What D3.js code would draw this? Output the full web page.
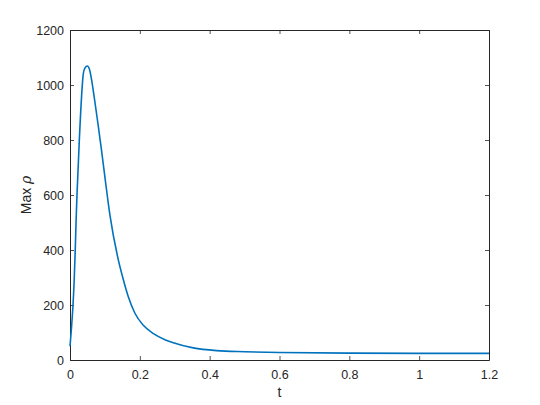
<!DOCTYPE html>
<html>
<head>
<meta charset="utf-8">
<script src="https://cdn.jsdelivr.net/npm/d3@7"></script>
<style>
  body { margin: 0; background: #fff; }
  text { font-family: "Liberation Sans", Arial, sans-serif; }
</style>
</head>
<body>
<svg id="chart" width="540" height="405"></svg>
<script>
// values
const tValues = [ 0, 0.005, 0.0086, 0.012, 0.015, 0.018, 0.020, 0.0267, 0.035, 0.038, 0.043, 0.0496,
  0.0555, 0.062, 0.070, 0.080, 0.090, 0.100, 0.1146, 0.1384, 0.153, 0.167, 0.186, 0.210,
  0.239, 0.272, 0.296, 0.353, 0.42, 0.5, 0.6, 0.8, 1.0, 1.2 ];
const maxRho = [ 50, 130, 200, 290, 400, 527, 600, 800, 995, 1040, 1062, 1069,
  1058, 1018, 950, 860, 765, 665, 525, 364, 291, 230, 170, 126,
  96, 74, 63, 44, 34, 30, 27, 25, 24, 24 ];
const xTicks = [ 0, 0.2, 0.4, 0.6, 0.8, 1, 1.2 ];
const yTicks = [ 0, 200, 400, 600, 800, 1000, 1200 ];

const data = tValues.map( ( t, i ) => ( { t, v: maxRho[i] } ) );

const svg = d3.select( "#chart" );
const MARGINS = { top: 30, right: 51, bottom: 45, left: 70 };
const WIDTH = 540;
const HEIGHT = 405;
const AXIS = "#262626";

const x = d3.scaleLinear().domain( [ 0, 1.2 ] ).range( [ MARGINS.left, WIDTH - MARGINS.right ] );
const y = d3.scaleLinear().domain( [ 0, 1200 ] ).range( [ HEIGHT - MARGINS.bottom, MARGINS.top ] );

const fmt = d => String( d );

const styleAxis = ( g, noLabels ) => {
  g.select( ".domain" ).attr( "stroke", AXIS ).attr( "stroke-width", 1 );
  g.selectAll( ".tick line" ).attr( "stroke", AXIS ).attr( "stroke-width", 0.8 );
  g.selectAll( ".tick text" ).attr( "fill", AXIS ).attr( "font-size", 12.5 );
  if ( noLabels ) g.selectAll( ".tick text" ).remove();
};

// bottom
svg.append( "g" )
  .attr( "transform", `translate(0,${y( 0 )})` )
  .call( d3.axisBottom( x ).tickValues( xTicks ).tickFormat( fmt ).tickSizeInner( -4 ).tickSizeOuter( 0 ).tickPadding( 10 ) )
  .call( g => styleAxis( g, false ) );
// top
svg.append( "g" )
  .attr( "transform", `translate(0,${y( 1200 )})` )
  .call( d3.axisTop( x ).tickValues( xTicks ).tickSizeInner( -4 ).tickSizeOuter( 0 ) )
  .call( g => styleAxis( g, true ) );
// left
svg.append( "g" )
  .attr( "transform", `translate(${x( 0 )},0)` )
  .call( d3.axisLeft( y ).tickValues( yTicks ).tickFormat( fmt ).tickSizeInner( -4 ).tickSizeOuter( 0 ).tickPadding( 6 ) )
  .call( g => styleAxis( g, false ) );
// right
svg.append( "g" )
  .attr( "transform", `translate(${x( 1.2 )},0)` )
  .call( d3.axisRight( y ).tickValues( yTicks ).tickSizeInner( -4 ).tickSizeOuter( 0 ) )
  .call( g => styleAxis( g, true ) );

const line = d3.line()
  .x( d => x( d.t ) )
  .y( d => y( d.v ) )
  .curve( d3.curveMonotoneX );

svg.append( "path" )
  .datum( data )
  .attr( "d", line )
  .attr( "fill", "none" )
  .attr( "stroke", "#0072BD" )
  .attr( "stroke-width", 1.6 );

// axis labels
svg.append( "text" )
  .attr( "x", ( x( 0 ) + x( 1.2 ) ) / 2 )
  .attr( "y", 397 )
  .attr( "text-anchor", "middle" )
  .attr( "font-size", 14 )
  .attr( "fill", AXIS )
  .text( "t" );

const yl = svg.append( "text" )
  .attr( "transform", `translate(31,${( y( 0 ) + y( 1200 ) ) / 2}) rotate(-90)` )
  .attr( "text-anchor", "middle" )
  .attr( "font-size", 14 )
  .attr( "fill", AXIS );
yl.append( "tspan" ).text( "Max " );
yl.append( "tspan" ).attr( "font-style", "italic" ).attr( "font-family", "'DejaVu Serif', serif" ).text( "ρ" );
</script>
</body>
</html>
